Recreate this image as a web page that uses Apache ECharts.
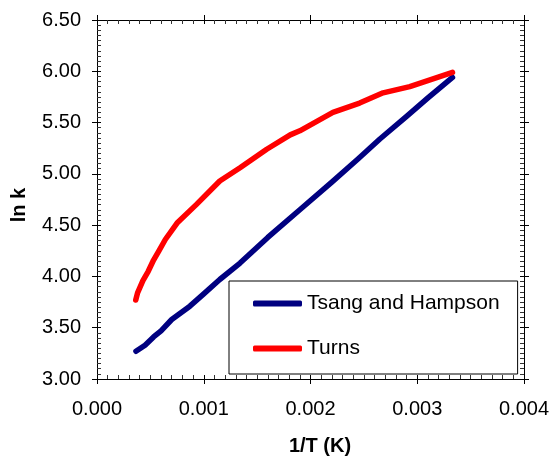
<!DOCTYPE html>
<html>
<head>
<meta charset="utf-8">
<script src="https://cdn.jsdelivr.net/npm/echarts@6/dist/echarts.min.js"></script>
<style>
html,body{margin:0;padding:0;background:#fff;}
#chart{width:553px;height:457px;}
</style>
</head>
<body>
<div id="chart"></div>
<script>
// Data
const seriesNames = ['Tsang and Hampson', 'Turns'];
const tsangX = [0.000365, 0.00045, 0.00053, 0.0006, 0.0007, 0.00087, 0.001, 0.00115, 0.00134, 0.0016, 0.0019, 0.0022, 0.00245, 0.00265, 0.0029, 0.0031, 0.00333];
const tsangY = [3.27, 3.33, 3.41, 3.47, 3.58, 3.71, 3.83, 3.97, 4.13, 4.38, 4.65, 4.92, 5.15, 5.34, 5.56, 5.74, 5.94];
const turnsX = [0.000363, 0.00038, 0.00043, 0.00048, 0.00053, 0.00058, 0.00064, 0.00075, 0.00093, 0.00115, 0.00134, 0.00159, 0.00181, 0.0019, 0.00221, 0.00246, 0.00268, 0.00293, 0.00333];
const turnsY = [3.77, 3.84, 3.96, 4.05, 4.16, 4.25, 4.36, 4.52, 4.70, 4.93, 5.06, 5.24, 5.38, 5.42, 5.60, 5.69, 5.79, 5.85, 5.99];
const xTicks = { min: 0, max: 0.004, interval: 0.001, decimals: 3 };
const yTicks = { min: 3, max: 6.5, interval: 0.5, decimals: 2 };
const xTitle = '1/T (K)';
const yTitle = 'ln k';

const FONT = "'Liberation Sans', Arial, sans-serif";
const black = '#000';

function makeX(position, outside, labels, minor) {
  return {
    type: 'value', position: position,
    min: xTicks.min, max: xTicks.max, interval: xTicks.interval,
    axisLine: { show: true, onZero: false, lineStyle: { color: black, width: 1 } },
    axisTick: { show: true, inside: !outside, length: outside ? 5 : 4, lineStyle: { color: black } },
    minorTick: { show: minor, splitNumber: 10, length: 4, lineStyle: { color: '#333' } },
    axisLabel: labels ? { show: true, margin: 20, color: black, fontSize: 20, fontFamily: FONT,
      formatter: v => v.toFixed(xTicks.decimals) } : { show: false },
    splitLine: { show: false }
  };
}
function makeY(position, outside, labels, minor) {
  return {
    type: 'value', position: position,
    min: yTicks.min, max: yTicks.max, interval: yTicks.interval,
    axisLine: { show: true, onZero: false, lineStyle: { color: black, width: 1 } },
    axisTick: { show: true, inside: !outside, length: outside ? 5 : 4, lineStyle: { color: black } },
    minorTick: { show: minor, splitNumber: 10, length: 4, lineStyle: { color: '#333' } },
    axisLabel: labels ? { show: true, margin: 16, color: black, fontSize: 20, fontFamily: FONT,
      formatter: v => v.toFixed(yTicks.decimals) } : { show: false },
    splitLine: { show: false }
  };
}

const chart = echarts.init(document.getElementById('chart'), null, { renderer: 'canvas' });
chart.setOption({
  animation: false,
  backgroundColor: '#fff',
  grid: { left: 97, right: 29, top: 20, bottom: 78, containLabel: false },
  xAxis: [makeX('bottom', true, true, false), makeX('bottom', false, false, true),
          makeX('top', true, false, false), makeX('top', false, false, true)],
  yAxis: [makeY('left', true, true, false), makeY('left', false, false, true),
          makeY('right', true, false, false), makeY('right', false, false, true)],
  legend: {
    orient: 'vertical', left: 229, top: 281,
    data: seriesNames,
    icon: 'roundRect',
    itemWidth: 49, itemHeight: 6, itemGap: 24,
    padding: [12, 18, 15, 24],
    borderColor: '#000', borderWidth: 1, backgroundColor: '#fff',
    textStyle: { fontSize: 21, fontFamily: FONT, color: black },
    selectedMode: false
  },
  graphic: [
    { type: 'text', x: 320, y: 446, style: { text: xTitle, font: "bold 20px " + FONT, fill: black, textAlign: 'center', textVerticalAlign: 'middle' } },
    { type: 'text', x: 19, y: 205, rotation: Math.PI / 2, style: { text: yTitle, font: "bold 20px " + FONT, fill: black, textAlign: 'center', textVerticalAlign: 'middle' } }
  ],
  series: [
    { name: seriesNames[0], type: 'line', xAxisIndex: 0, yAxisIndex: 0, symbol: 'none',
      lineStyle: { color: '#000080', width: 5.5, cap: 'round', join: 'round' }, itemStyle: { color: '#000080' },
      data: tsangX.map((x, i) => [x, tsangY[i]]) },
    { name: seriesNames[1], type: 'line', xAxisIndex: 0, yAxisIndex: 0, symbol: 'none',
      lineStyle: { color: '#FF0000', width: 5.5, cap: 'round', join: 'round' }, itemStyle: { color: '#FF0000' },
      data: turnsX.map((x, i) => [x, turnsY[i]]) }
  ]
});
</script>
</body>
</html>
